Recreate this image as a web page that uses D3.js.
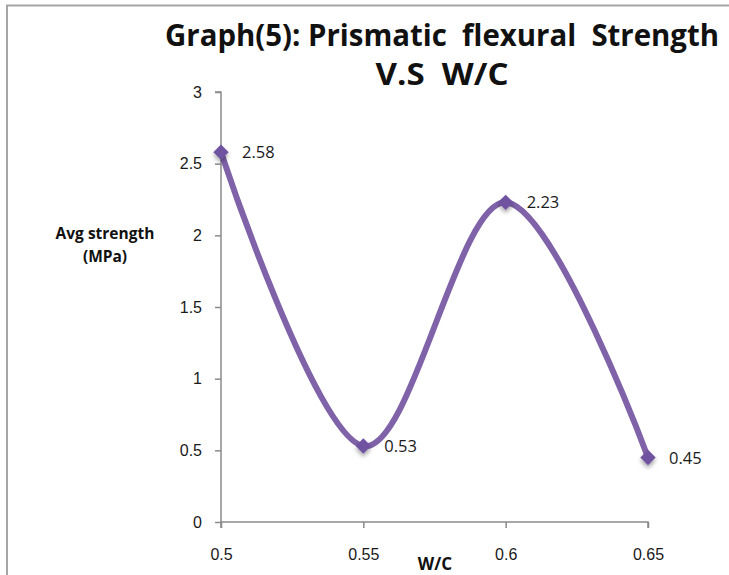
<!DOCTYPE html>
<html>
<head>
<meta charset="utf-8">
<script src="https://cdn.jsdelivr.net/npm/d3@7"></script>
<style>
  body { margin: 0; background: #fff; }
  svg { display: block; font-family: "Open Sans", sans-serif; }
</style>
</head>
<body>
<div id="chart"></div>
<script>
const wc = [0.5, 0.55, 0.6, 0.65];
const strength = [2.58, 0.53, 2.23, 0.45];
const xTicks = [0.5, 0.55, 0.6, 0.65];
const yTicks = [0, 0.5, 1, 1.5, 2, 2.5, 3];
const titleLines = ["Graph(5): Prismatic  flexural  Strength", "V.S  W/C"];
const yTitle = ["Avg strength", "(MPa)"];
const xTitle = "W/C";

const width = 729, height = 575;

const svg = d3.select("#chart").append("svg")
  .attr("width", width)
  .attr("height", height);

let defs = svg.append("defs");
defs.append("filter")
  .attr("id", "shadow")
  .attr("x", "-50%").attr("y", "-50%")
  .attr("width", "200%").attr("height", "200%")
  .append("feDropShadow")
  .attr("dx", 0).attr("dy", 3)
  .attr("stdDeviation", 2)
  .attr("flood-color", "#000")
  .attr("flood-opacity", 0.35);

// outer frame, only its top and left edges are in view
svg.append("path")
  .attr("d", "M7,575 V5.5 H729")
  .attr("fill", "none")
  .attr("stroke", "#a6a6a6")
  .attr("stroke-width", 2);

let x = d3.scaleLinear()
  .domain([0.5, 0.65])
  .range([221, 648]);

let y = d3.scaleLinear()
  .domain([0, 3])
  .range([522, 92]);

let axisLeft = d3.axisLeft(y)
  .tickValues(yTicks)
  .tickSize(6)
  .tickPadding(13)
  .tickFormat(d => d);

let axisBottom = d3.axisBottom(x)
  .tickValues(xTicks)
  .tickSize(6)
  .tickPadding(21)
  .tickFormat(d => d);

let gy = svg.append("g")
  .attr("transform", "translate(" + x(0.5) + ",0)")
  .call(axisLeft);

let gx = svg.append("g")
  .attr("transform", "translate(0," + y(0) + ")")
  .call(axisBottom);

[gx, gy].forEach(g => {
  g.selectAll("path, line").attr("stroke", "#8a8a8a").attr("stroke-width", 1.5);
  g.selectAll("text")
    .attr("fill", "#1a1a1a")
    .style("font-size", "16px");
});
gy.select(".domain").attr("d", "M-6," + y(3) + "H0V" + y(0));
gx.select(".domain").attr("d", "M" + x(0.5) + ",6V0H" + x(0.65) + "V6");

// smoothed line
let line = d3.line()
  .x((d, i) => x(wc[i]))
  .y(d => y(d))
  .curve(d3.curveCatmullRom.alpha(0));

svg.append("path")
  .datum(strength)
  .attr("d", line)
  .attr("fill", "none")
  .attr("stroke", "#7f62a8")
  .attr("stroke-width", 6)
  .attr("stroke-linecap", "round");

let pts = svg.append("g").selectAll(".pt")
  .data(strength)
  .enter()
  .append("g")
  .attr("class", "pt")
  .attr("transform", (d, i) => "translate(" + x(wc[i]) + "," + y(d) + ")");

pts.append("path")
  .attr("d", d3.symbol().type(d3.symbolDiamond2).size(150))
  .attr("fill", "#7052a0")
  .attr("filter", "url(#shadow)");

pts.append("text")
  .text(d => d)
  .attr("x", 21)
  .attr("y", 6)
  .attr("fill", "#1a1a1a")
  .style("font-size", "16.5px");

// title: narrower glyphs stretched upward to look like the condensed original
svg.append("g").selectAll("text")
  .data(titleLines)
  .enter()
  .append("text")
  .text(d => d)
  .attr("transform", (d, i) => "translate(442," + (46 + i * 39) + ") scale(1,1.15)")
  .attr("text-anchor", "middle")
  .attr("textLength", (d, i) => i === 0 ? 554 : 133)
  .attr("lengthAdjust", "spacingAndGlyphs")
  .attr("font-weight", "bold")
  .attr("fill", "#111")
  .style("white-space", "pre")
  .style("font-size", "27px");

// axis titles
svg.append("g").selectAll("text")
  .data(yTitle)
  .enter()
  .append("text")
  .text(d => d)
  .attr("x", 105)
  .attr("y", (d, i) => 239 + i * 23)
  .attr("text-anchor", "middle")
  .attr("font-weight", "bold")
  .attr("fill", "#111")
  .style("font-size", "15.5px");

svg.append("text")
  .text(xTitle)
  .attr("x", 435)
  .attr("y", 570)
  .attr("text-anchor", "middle")
  .attr("font-weight", "bold")
  .attr("fill", "#111")
  .style("font-size", "17px");
</script>
</body>
</html>
